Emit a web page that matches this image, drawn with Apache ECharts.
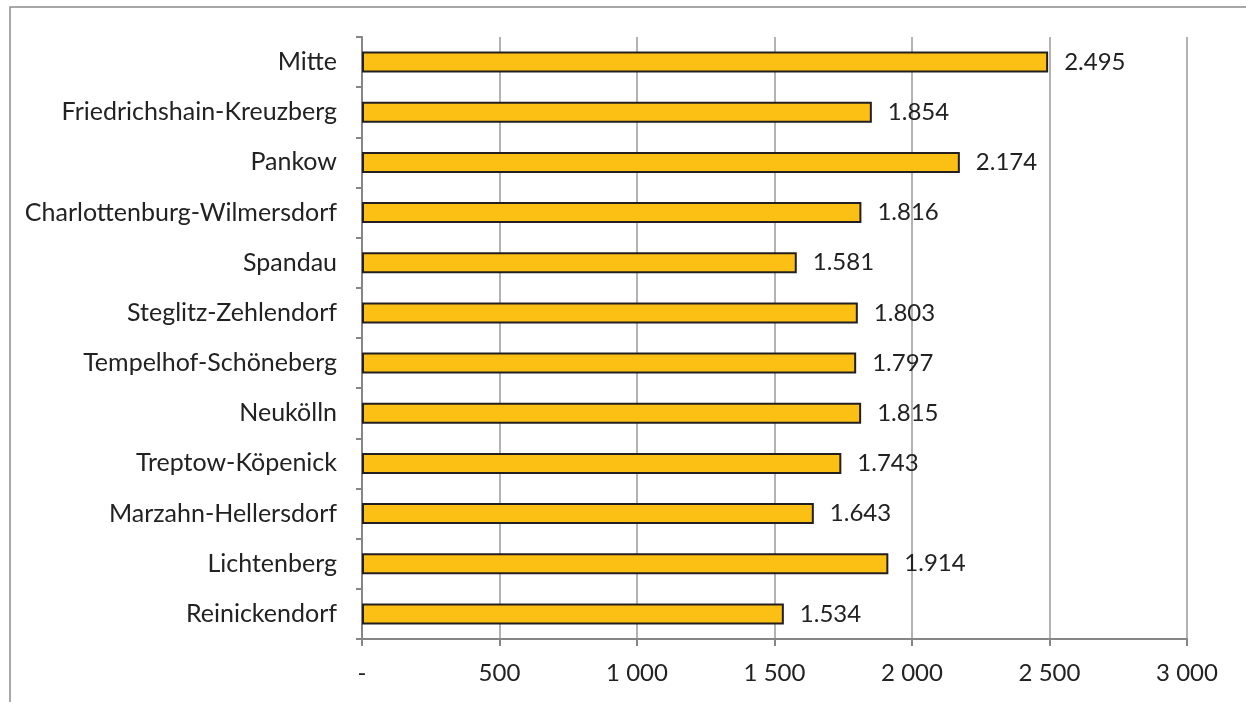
<!DOCTYPE html>
<html><head><meta charset="utf-8">
<script src="https://cdn.jsdelivr.net/npm/echarts@6/dist/echarts.min.js"></script>
<style>html,body{margin:0;padding:0;background:#fff}#c{width:1246px;height:702px}</style>
</head><body><div id="c"></div>
<script>
const categories = ["Mitte","Friedrichshain-Kreuzberg","Pankow","Charlottenburg-Wilmersdorf","Spandau","Steglitz-Zehlendorf","Tempelhof-Schöneberg","Neukölln","Treptow-Köpenick","Marzahn-Hellersdorf","Lichtenberg","Reinickendorf"];
const values = [2495,1854,2174,1816,1581,1803,1797,1815,1743,1643,1914,1534];
const xTicks = [0,500,1000,1500,2000,2500,3000];

const fmtNum = v => v === 0 ? '-' : String(v).replace(/\B(?=(\d{3})+(?!\d))/g, ' ');
const fmtLbl = v => String(v).replace(/\B(?=(\d{3})+(?!\d))/g, '.');
const FONT = 'Lato';
const chart = echarts.init(document.getElementById('c'));
chart.setOption({
  animation:false,
  backgroundColor:'#fff',
  graphic:[{type:'rect',shape:{x:10,y:7,width:1260,height:720},style:{fill:'none',stroke:'#8c8c8c',lineWidth:1.5},silent:true}],
  grid:{left:362,top:37,width:825,height:602,containLabel:false},
  xAxis:{type:'value',min:0,max:3000,interval:500,
    axisLine:{show:true,lineStyle:{color:'#868686',width:2}},
    axisTick:{show:true,length:7,lineStyle:{color:'#868686',width:2}},
    splitLine:{show:true,lineStyle:{color:'#9a9a9a',width:1.5}},
    axisLabel:{formatter:fmtNum,fontFamily:FONT,fontSize:24,color:'#222',margin:22}
  },
  yAxis:{type:'category',data:categories,inverse:true,
    axisLine:{show:true,lineStyle:{color:'#868686',width:2}},
    axisTick:{show:true,length:6,lineStyle:{color:'#868686',width:2}},
    axisLabel:{fontFamily:FONT,fontSize:25,color:'#222',margin:25}
  },
  series:[{type:'bar',data:values,barWidth:21,
    itemStyle:{color:'#FCBF14',borderColor:'#231f20',borderWidth:2},
    label:{show:true,position:'right',distance:16,formatter:p=>fmtLbl(p.value),fontFamily:FONT,fontSize:24,color:'#222'}
  }]
});
</script></body></html>
